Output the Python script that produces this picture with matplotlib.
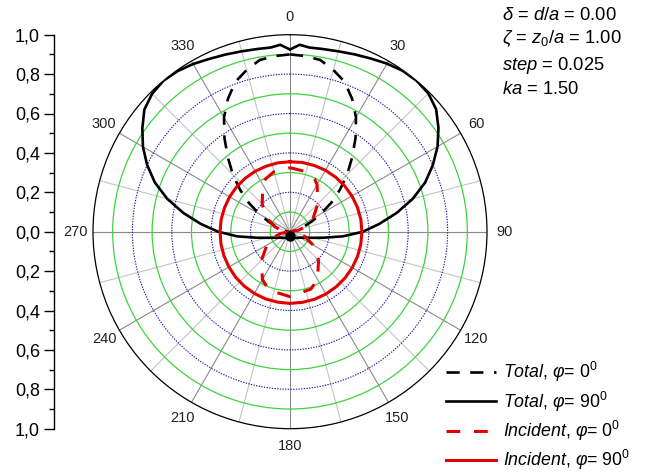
import numpy as np
import matplotlib
matplotlib.use("Agg")
import matplotlib.pyplot as plt

plt.rcParams['font.family'] = ['Liberation Sans', 'DejaVu Sans']
plt.rcParams['mathtext.fontset'] = 'custom'
plt.rcParams['mathtext.rm'] = 'Liberation Sans'
plt.rcParams['mathtext.it'] = 'Liberation Sans:italic'

# Total, phi = 90 (solid black), angle in degrees clockwise from top
tot90_deg = [0, 3, 6, 10, 15, 20, 25, 30, 35, 40, 45, 50, 55, 60, 65, 70, 75, 80, 85, 90,
             95, 100, 105, 110, 120, 135, 150, 165, 180, 195, 210, 225, 240, 250, 255,
             260, 265, 270, 275, 280, 285, 290, 295, 300, 305, 310, 315, 320, 325, 330,
             335, 340, 345, 350, 354, 357, 360]
tot90_r = [0.925, 0.95, 0.94, 0.942, 0.948, 0.958, 0.97, 0.985, 0.997, 1.0, 0.993, 0.968,
           0.92, 0.865, 0.80, 0.73, 0.645, 0.55, 0.455, 0.37,
           0.27, 0.175, 0.12, 0.09, 0.06, 0.045, 0.035, 0.03, 0.03, 0.03, 0.035, 0.045,
           0.06, 0.09, 0.12,
           0.175, 0.27, 0.365, 0.455, 0.55, 0.645, 0.73, 0.80, 0.862, 0.915, 0.965, 0.99,
           1.0, 0.995, 0.983, 0.968, 0.957, 0.948, 0.942, 0.94, 0.95, 0.925]

# Total, phi = 0 (dashed black)
tot0_deg = [0, 5, 10, 15, 20, 25, 30, 35, 40, 45, 50, 55, 60, 65, 70, 75, 80, 90, 120,
            180, 240, 270, 280, 285, 290, 295, 300, 305, 310, 315, 320, 325, 330, 335,
            340, 345, 350, 355, 360]
tot0_r = [0.90, 0.895, 0.885, 0.85, 0.81, 0.745, 0.67, 0.58, 0.49, 0.41, 0.33, 0.255,
          0.18, 0.12, 0.075, 0.045, 0.025, 0.01, 0.01,
          0.01, 0.01, 0.01, 0.025, 0.045, 0.075, 0.12, 0.18, 0.255, 0.33, 0.41, 0.49,
          0.58, 0.67, 0.745, 0.81, 0.85, 0.885, 0.895, 0.90]

# Incident, phi = 0 (dashed red)
inc0_deg = [0, 15, 25, 30, 45, 60, 72, 80, 90, 100, 108, 120, 135, 150, 160, 180,
            200, 210, 225, 240, 252, 260, 270, 280, 288, 300, 315, 330, 335, 345, 360]
inc0_r = [0.325, 0.315, 0.295, 0.275, 0.20, 0.135, 0.08, 0.045, 0.0, 0.045, 0.08, 0.135,
          0.205, 0.28, 0.31, 0.33, 0.315, 0.28, 0.205, 0.135, 0.08, 0.045, 0.0, 0.045,
          0.08, 0.135, 0.20, 0.275, 0.295, 0.315, 0.325]

# Incident, phi = 90 (solid red)
inc90_deg = [0, 10, 20, 30, 40, 50, 60, 70, 80, 90, 100, 110, 120, 130, 140, 150, 160,
             170, 180, 190, 200, 210, 220, 230, 240, 250, 260, 270, 280, 290, 300, 310,
             320, 330, 340, 350, 360]
inc90_r = [0.355, 0.357, 0.358, 0.36, 0.361, 0.362, 0.363, 0.364, 0.365, 0.365, 0.365,
           0.365, 0.365, 0.365, 0.365, 0.365, 0.365, 0.364, 0.364, 0.363, 0.363, 0.362,
           0.361, 0.36, 0.358, 0.357, 0.356, 0.355, 0.355, 0.354, 0.354, 0.354, 0.354,
           0.354, 0.354, 0.355, 0.355]

angle_labels = ['0', '30', '60', '90', '120', '150', '180', '210', '240', '270', '300', '330']
left_ticks = [-1.0, -0.8, -0.6, -0.4, -0.2, 0.0, 0.2, 0.4, 0.6, 0.8, 1.0]
left_labels = ['1,0', '0,8', '0,6', '0,4', '0,2', '0,0', '0,2', '0,4', '0,6', '0,8', '1,0']

W, H = 656, 472
fig = plt.figure(figsize=(W / 100, H / 100), dpi=100)

cx, cy, R = 290, 231.7, 197
ax = fig.add_axes([(cx - R) / W, (H - cy - R) / H, 2 * R / W, 2 * R / H], projection='polar')
ax.set_theta_zero_location('N')
ax.set_theta_direction(-1)
ax.set_ylim(0, 1)

# grid: circles green / blue dotted, spokes every 15 deg
ax.set_rgrids(np.arange(0.1, 0.95, 0.1), labels=[])
for i, gl in enumerate(ax.yaxis.get_gridlines()):
    if i % 2 == 0:
        gl.set_color('#3fd23f')
        gl.set_linestyle('-')
        gl.set_linewidth(0.9)
    else:
        gl.set_color('#1a1aa8')
        gl.set_linestyle((0, (1.2, 1.2)))
        gl.set_linewidth(0.8)
ax.set_thetagrids(np.arange(0, 360, 15), labels=[])
for i, gl in enumerate(ax.xaxis.get_gridlines()):
    gl.set_linestyle('-')
    gl.set_linewidth(0.8)
    gl.set_color('#8a8a8a' if i % 2 == 0 else '#c4c4c4')
ax.tick_params(axis='x', direction='out', length=3, color='#666666', pad=0)
ax.spines['polar'].set_color('black')
ax.spines['polar'].set_linewidth(0.9)

for lab in angle_labels:
    t = np.deg2rad(float(lab))
    ax.text(t, 1.09, lab, ha='center', va='center', fontsize=10.5, color='#222222')

l1, = ax.plot(np.deg2rad(tot0_deg), tot0_r, color='black', lw=1.9, ls=(0, (5, 4)))
l2, = ax.plot(np.deg2rad(tot90_deg), tot90_r, color='black', lw=1.9)
l3, = ax.plot(np.deg2rad(inc0_deg), inc0_r, color='#e00000', lw=2.2, ls=(0, (4.5, 4.5)))
l4, = ax.plot(np.deg2rad(inc90_deg), inc90_r, color='#e00000', lw=2.2)
ax.plot([np.pi], [0.02], 'o', color='black', ms=6.5)

# left linear scale
lax = fig.add_axes([54 / W, (H - cy - R) / H, 0.0001, 2 * R / H])
lax.set_ylim(-1, 1)
lax.set_xticks([])
for s in ['top', 'right', 'bottom']:
    lax.spines[s].set_visible(False)
lax.spines['left'].set_linewidth(1.0)
lax.set_yticks(left_ticks)
lax.set_yticklabels(left_labels, fontsize=13)
lax.set_yticks(np.arange(-0.9, 1.0, 0.2), minor=True)
lax.tick_params(axis='y', which='major', length=7, width=1.0, pad=3)
lax.tick_params(axis='y', which='minor', length=3.5, width=1.0)

# parameter text
fig.text(502 / W, 1 - 15 / H, r'$\delta$ = $d/a$ = 0.00', fontsize=13.2, va='center')
fig.text(502 / W, 1 - 39 / H, r'$\zeta$ = $z_0/a$ = 1.00', fontsize=13.2, va='center')
fig.text(502 / W, 1 - 65 / H, r'$step$ = 0.025', fontsize=13.2, va='center')
fig.text(502 / W, 1 - 90 / H, r'$ka$ = 1.50', fontsize=13.2, va='center')

fig.legend([l1, l2, l3, l4],
           [r'$Total$, $\varphi$= 0$^0$', r'$Total$, $\varphi$= 90$^0$',
            r'$Incident$, $\varphi$= 0$^0$', r'$Incident$, $\varphi$= 90$^0$'],
           loc='upper left', bbox_to_anchor=(446 / W, 1 - 360 / H), frameon=False,
           fontsize=12.8, handlelength=2.8, handletextpad=0.4, labelspacing=0.3,
           borderpad=0, borderaxespad=0)

fig.savefig('out.png', dpi=100)
